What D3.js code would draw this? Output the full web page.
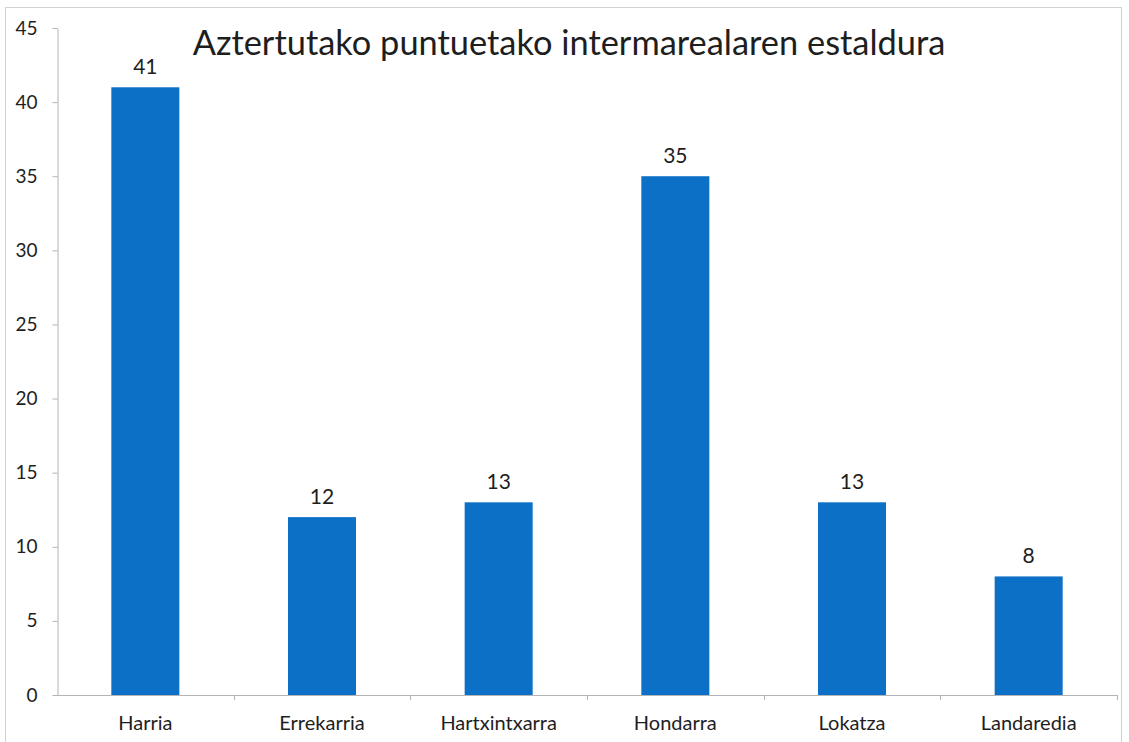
<!DOCTYPE html>
<html>
<head>
<meta charset="utf-8">
<script src="https://cdn.jsdelivr.net/npm/d3@7"></script>
<style>
  body { margin: 0; background: #fff; }
  text { font-family: Lato, "Open Sans", sans-serif; fill: #1e1e1e; }
</style>
</head>
<body>
<svg id="chart" width="1129" height="742"></svg>
<script>
// chart data
var categories = ["Harria", "Errekarria", "Hartxintxarra", "Hondarra", "Lokatza", "Landaredia"];
var values = [41, 12, 13, 35, 13, 8];
var yTicks = [0, 5, 10, 15, 20, 25, 30, 35, 40, 45];
var title = "Aztertutako puntuetako intermarealaren estaldura";

// plot box (note: "top" is taken by window.top, so prefixed names)
var plotLeft = 57, plotRight = 1117, plotTop = 28, plotBottom = 695;
var barColor = "#0b70c6";
var axisColor = "#b4b4b4";

var svg = d3.select("#chart");

// light frame round the chart area (cut off at bottom)
svg.append("rect")
  .attr("x", 5.5).attr("y", 7.5)
  .attr("width", 1116).attr("height", 760)
  .attr("fill", "none")
  .attr("stroke", "#d2d2d2");

var x = d3.scaleBand()
  .domain(categories)
  .range([plotLeft, plotRight])
  .paddingInner(0.615)
  .paddingOuter(0.3075);

var y = d3.scaleLinear()
  .domain([0, 45])
  .range([plotBottom, plotTop]);

// y axis
var yAxis = svg.append("g")
  .attr("transform", "translate(" + (plotLeft + 0.5) + ",0)")
  .call(d3.axisLeft(y).tickValues(yTicks).tickSize(5).tickSizeOuter(0).tickPadding(15));
yAxis.select(".domain").attr("stroke", axisColor);
yAxis.selectAll(".tick line").attr("stroke", axisColor);
yAxis.selectAll(".tick text")
  .attr("font-size", 19)
  .attr("font-family", "Lato, sans-serif")
  .attr("fill", "#1e1e1e");

// bars
svg.append("g").selectAll("rect")
  .data(categories)
  .enter().append("rect")
  .attr("x", function(d) { return x(d); })
  .attr("width", x.bandwidth())
  .attr("y", function(d, i) { return y(values[i]); })
  .attr("height", function(d, i) { return y(0) - y(values[i]); })
  .attr("fill", barColor);

// value labels
svg.append("g").selectAll("text")
  .data(categories)
  .enter().append("text")
  .attr("x", function(d) { return x(d) + x.bandwidth() / 2; })
  .attr("y", function(d, i) { return y(values[i]) - 13; })
  .attr("text-anchor", "middle")
  .attr("font-size", 21)
  .text(function(d, i) { return values[i]; });

// x axis line + ticks between categories
var xAxis = svg.append("g");
xAxis.append("line")
  .attr("x1", plotLeft).attr("x2", plotRight)
  .attr("y1", plotBottom + 0.5).attr("y2", plotBottom + 0.5)
  .attr("stroke", axisColor);
xAxis.selectAll(".sep")
  .data(d3.range(1, categories.length + 1))
  .enter().append("line")
  .attr("class", "sep")
  .attr("x1", function(i) { return Math.round(plotLeft + x.step() * i) + 0.5; })
  .attr("x2", function(i) { return Math.round(plotLeft + x.step() * i) + 0.5; })
  .attr("y1", plotBottom).attr("y2", plotBottom + 5)
  .attr("stroke", axisColor);
xAxis.selectAll(".cat")
  .data(categories)
  .enter().append("text")
  .attr("class", "cat")
  .attr("x", function(d) { return x(d) + x.bandwidth() / 2; })
  .attr("y", 730)
  .attr("text-anchor", "middle")
  .attr("font-size", 20)
  .text(function(d) { return d; });

// title, sized to the width it takes in the reference
var t = svg.append("text")
  .attr("x", 569)
  .attr("y", 55)
  .attr("text-anchor", "middle")
  .attr("font-size", 33)
  .text(title);
var w = t.node().getComputedTextLength();
t.attr("font-size", 33 * 753 / w);
</script>
</body>
</html>
